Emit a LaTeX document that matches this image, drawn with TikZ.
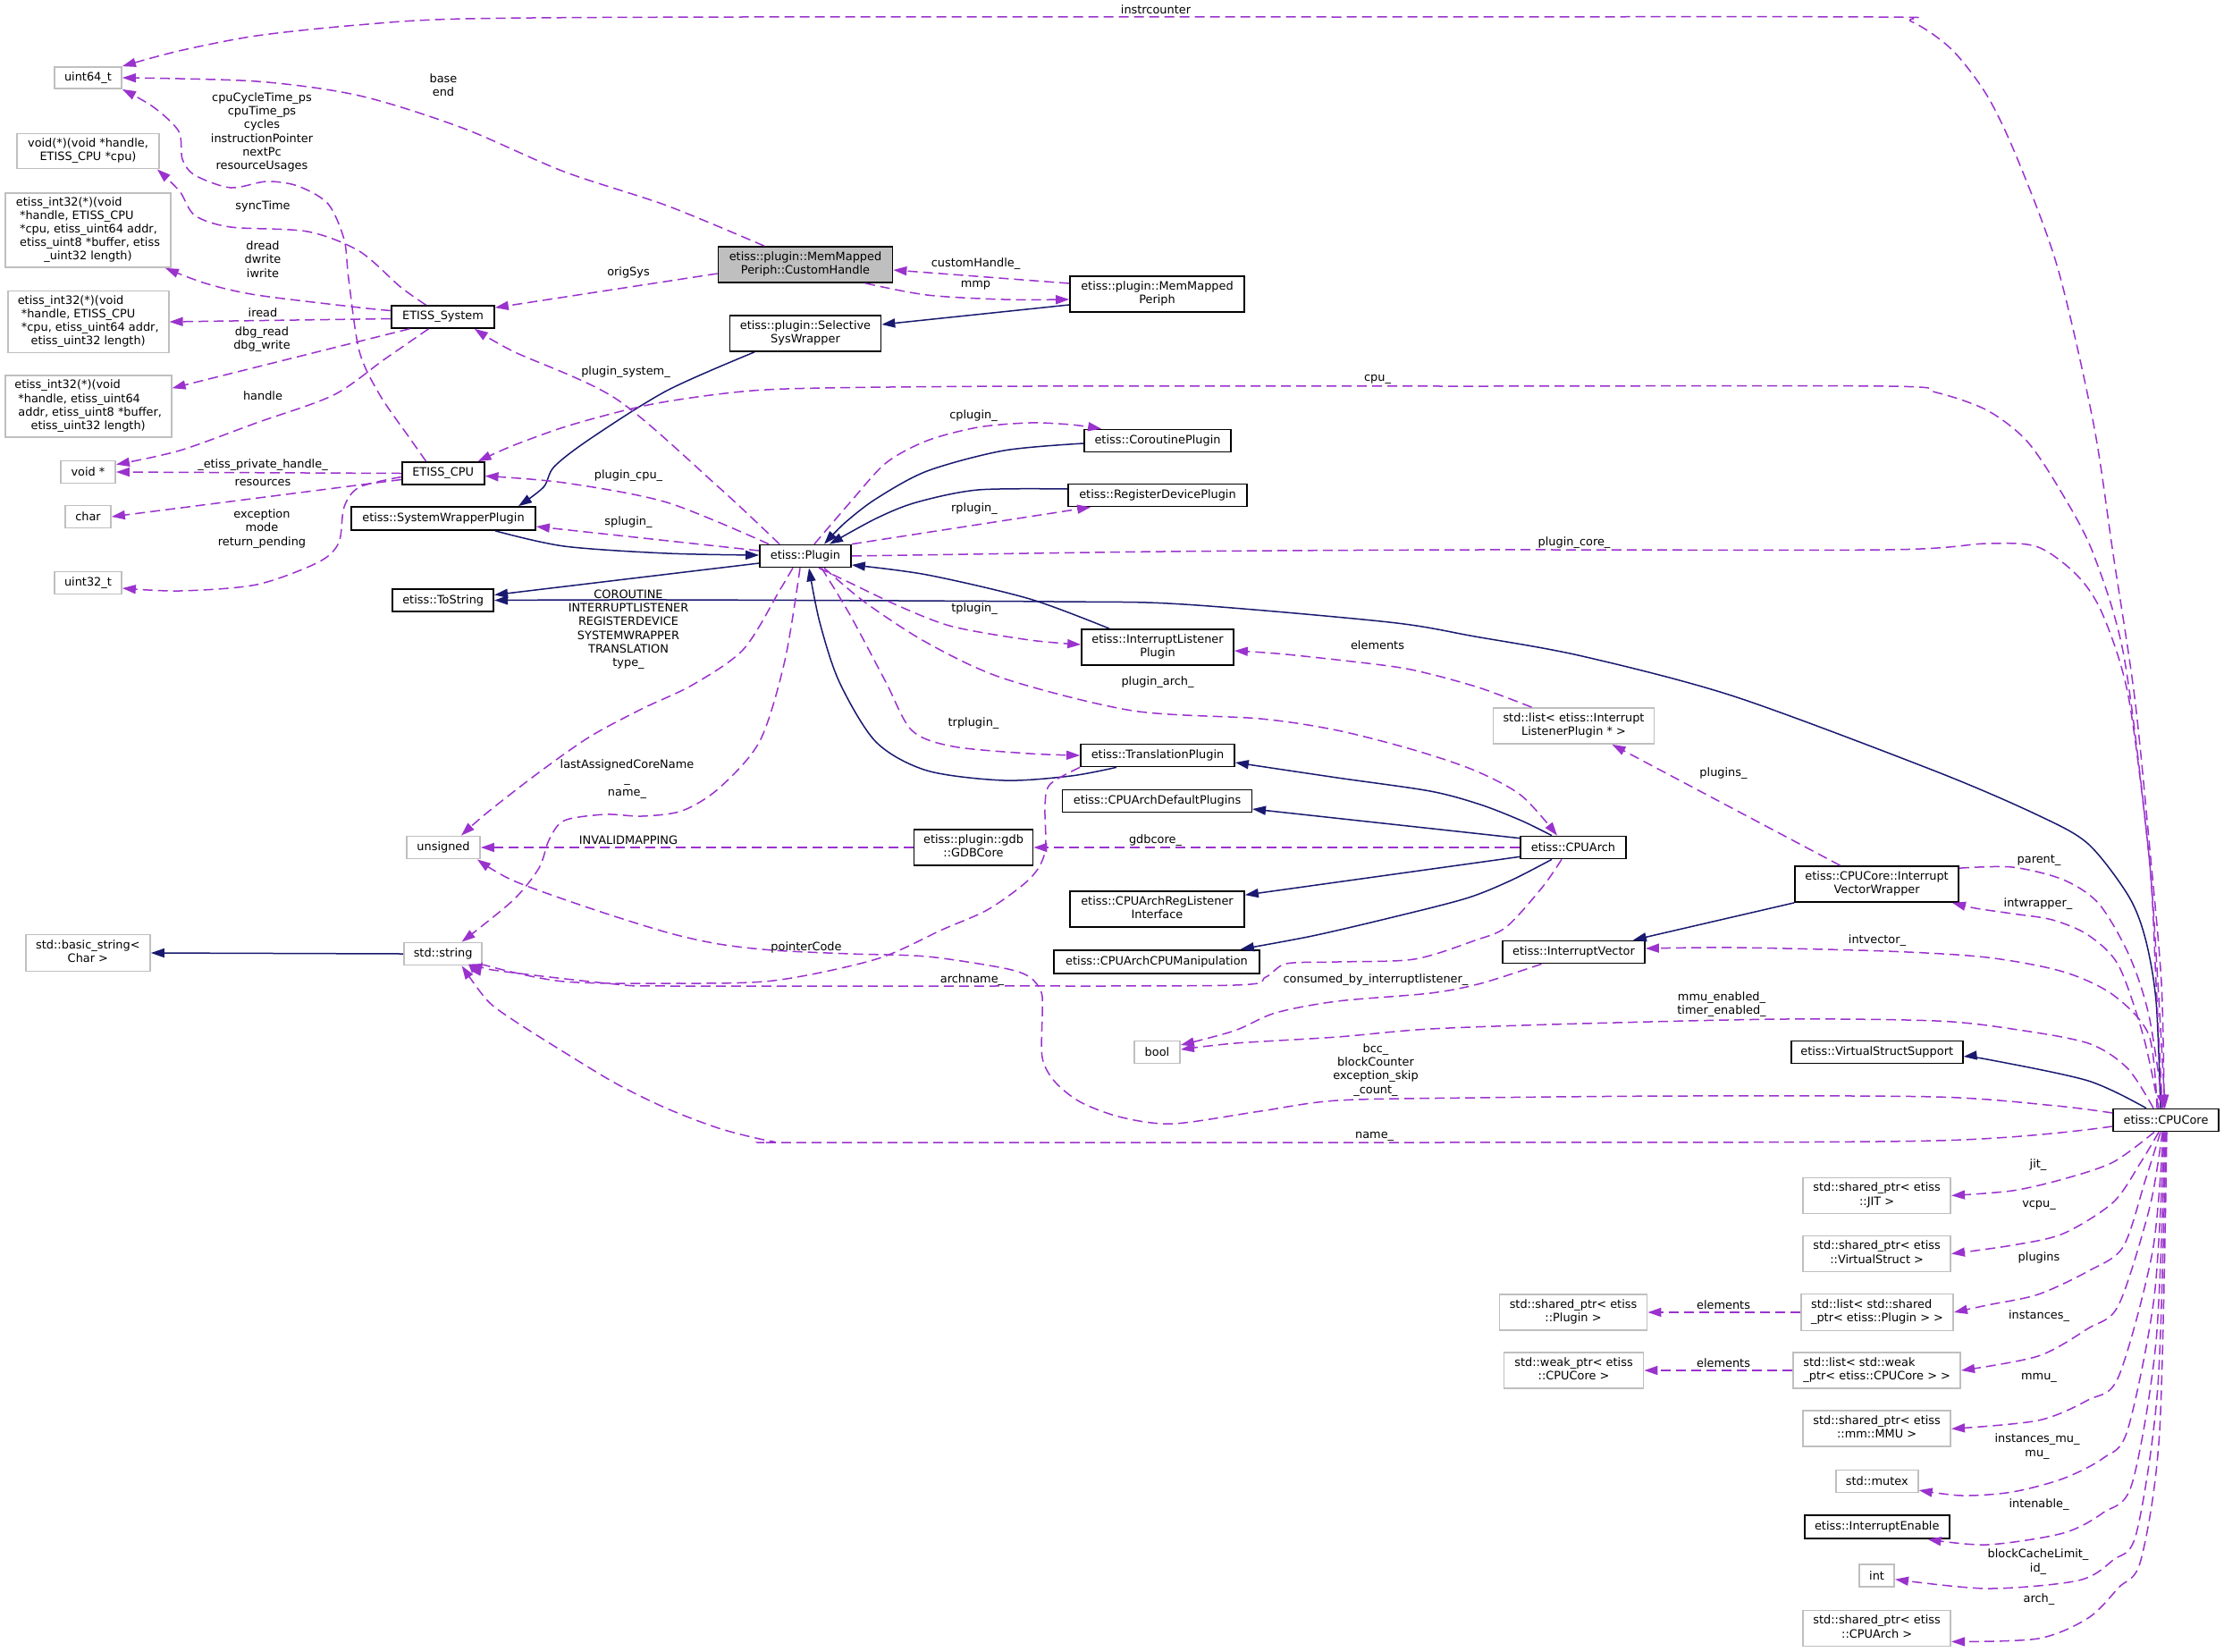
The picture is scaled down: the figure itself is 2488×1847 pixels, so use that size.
\documentclass[tikz,border=0pt]{standalone}
\usepackage{fontspec}
\setmainfont{DejaVu Sans}
\usetikzlibrary{arrows.meta,calc}
\definecolor{purp}{HTML}{9A32CD}
\definecolor{navyc}{HTML}{191970}
\definecolor{greyc}{HTML}{BFBFBF}
\newcommand\dfont{\fontsize{6.45pt}{7.6pt}\selectfont}
\newcommand\ml[2]{\begin{tabular}{@{}l@{}}#1\\\multicolumn{1}{@{}c@{}}{#2}\end{tabular}}
\begin{document}
\begin{tikzpicture}[x=0.5pt,y=-0.5pt,
  sz/.style 2 args={minimum width=#1*0.5pt, minimum height=#2*0.5pt},
  cls/.style={draw=black, line width=0.85pt, fill=white, inner sep=1pt, font=\dfont},
  thincls/.style={draw=black, line width=0.55pt, fill=white, inner sep=1pt, font=\dfont},
  ext/.style={draw=greyc, line width=0.9pt, fill=white, inner sep=1pt, font=\dfont},
  rootc/.style={draw=black, line width=0.85pt, fill=greyc, inner sep=1pt, font=\dfont},
  uses/.style={draw=purp, line width=0.75pt, dash pattern=on 5.5pt off 3pt, -{Triangle[length=7.5pt,width=5pt]}},
  inh/.style={draw=navyc, line width=0.75pt, -{Triangle[length=7.5pt,width=5pt]}},
  lbl/.style={font=\dfont, align=center, inner sep=0pt}]
\path[use as bounding box, fill=white] (0,0) rectangle (2488,1847);

% ---------------- nodes ----------------
\node[ext,sz={75}{24}] (u64) at (98.5,87) {uint64\_t};
\node[ext,sz={159}{39}] (vfn) at (98.5,169) {\ml{void(*)(void *handle,}{ETISS\_CPU *cpu)}};
\node[ext,sz={185}{83}] (i32a) at (98.5,257.5) {\ml{etiss\_int32(*)(void\\\ *handle, ETISS\_CPU\\\ *cpu, etiss\_uint64 addr,\\\ etiss\_uint8 *buffer, etiss}{\_uint32 length)}};
\node[ext,sz={180}{69}] (i32b) at (98.7,360) {\ml{etiss\_int32(*)(void\\\ *handle, ETISS\_CPU\\\ *cpu, etiss\_uint64 addr,}{etiss\_uint32 length)}};
\node[ext,sz={186}{69}] (i32c) at (98.7,454.6) {\ml{etiss\_int32(*)(void\\\ *handle, etiss\_uint64\\\ addr, etiss\_uint8 *buffer,}{etiss\_uint32 length)}};
\node[ext,sz={61}{25}] (voidp) at (98.5,528) {void *};
\node[ext,sz={51}{25}] (chr) at (98.5,578) {char};
\node[ext,sz={75}{25}] (u32) at (98.5,652) {uint32\_t};
\node[cls,sz={115}{25}] (sys) at (495.5,354.5) {ETISS\_System};
\node[cls,sz={92}{25}] (cpu) at (495.7,529.5) {ETISS\_CPU};
\node[cls,sz={206}{26}] (swp) at (496,580) {etiss::SystemWrapperPlugin};
\node[cls,sz={113}{25}] (tostr) at (495.7,671.5) {etiss::ToString};
\node[ext,sz={82}{25}] (uns) at (496,948) {unsigned};
\node[ext,sz={87}{25}] (str) at (495.6,1067) {std::string};
\node[ext,sz={139}{41}] (bstr) at (98.4,1066) {\ml{std::basic\_string<}{Char >}};
\node[rootc,sz={195}{40}] (ch) at (901,296) {\ml{etiss::plugin::MemMapped}{Periph::CustomHandle}};
\node[cls,sz={195}{40}] (mmp) at (1294.5,329) {\ml{etiss::plugin::MemMapped}{Periph}};
\node[cls,sz={169}{40}] (ssw) at (901,373) {\ml{etiss::plugin::Selective}{SysWrapper}};
\node[cls,sz={164}{25}] (corp) at (1295,493) {etiss::CoroutinePlugin};
\node[cls,sz={200}{25}] (rdp) at (1295,554) {etiss::RegisterDevicePlugin};
\node[cls,sz={102}{25}] (plg) at (901,622) {etiss::Plugin};
\node[cls,sz={170}{40}] (ilp) at (1295,724) {\ml{etiss::InterruptListener}{Plugin}};
\node[cls,sz={172}{25}] (trp) at (1295,845) {etiss::TranslationPlugin};
\node[thincls,sz={212}{25}] (cadp) at (1294.5,896) {etiss::CPUArchDefaultPlugins};
\node[cls,sz={133}{40}] (gdb) at (1089,948) {\ml{etiss::plugin::gdb}{::GDBCore}};
\node[cls,sz={195}{40}] (carl) at (1294.5,1017) {\ml{etiss::CPUArchRegListener}{Interface}};
\node[cls,sz={230}{26}] (cacm) at (1294,1075.7) {etiss::CPUArchCPUManipulation};
\node[ext,sz={51}{25}] (bool) at (1294.5,1177) {bool};
\node[ext,sz={180}{40}] (lilp) at (1760.5,812) {\ml{std::list< etiss::Interrupt}{ListenerPlugin * >}};
\node[cls,sz={118}{25}] (arch) at (1760,948) {etiss::CPUArch};
\node[cls,sz={183}{40}] (ivw) at (2099.6,989) {\ml{etiss::CPUCore::Interrupt}{VectorWrapper}};
\node[cls,sz={159}{25}] (iv) at (1760.5,1065) {etiss::InterruptVector};
\node[cls,sz={192}{25}] (vss) at (2099.7,1177) {etiss::VirtualStructSupport};
\node[cls,sz={118}{25}] (core) at (2423,1253) {etiss::CPUCore};
\node[ext,sz={165}{40}] (jit) at (2099.6,1337.4) {\ml{std::shared\_ptr< etiss}{::JIT >}};
\node[ext,sz={165}{40}] (vs) at (2099.6,1402.5) {\ml{std::shared\_ptr< etiss}{::VirtualStruct >}};
\node[ext,sz={170}{41}] (lsp) at (2100,1468) {\ml{std::list< std::shared}{\_ptr< etiss::Plugin > >}};
\node[ext,sz={165}{40}] (spp) at (1760,1468) {\ml{std::shared\_ptr< etiss}{::Plugin >}};
\node[ext,sz={187}{40}] (lwp) at (2099.7,1533) {\ml{std::list< std::weak}{\_ptr< etiss::CPUCore > >}};
\node[ext,sz={156}{40}] (wpc) at (1760.5,1533) {\ml{std::weak\_ptr< etiss}{::CPUCore >}};
\node[ext,sz={165}{40}] (mmu) at (2099.6,1598.3) {\ml{std::shared\_ptr< etiss}{::mm::MMU >}};
\node[ext,sz={92}{25}] (mtx) at (2099.8,1657) {std::mutex};
\node[cls,sz={162}{26}] (ie) at (2099.7,1708) {etiss::InterruptEnable};
\node[ext,sz={39}{25}] (int) at (2099.6,1762.7) {int};
\node[ext,sz={165}{40}] (sparch) at (2099.6,1821.4) {\ml{std::shared\_ptr< etiss}{::CPUArch >}};

% ---------------- edges ----------------
% instrcounter
\draw[uses] plot[smooth] coordinates {($(core.north)+(-2,0)$) (2418,1100) (2405,950) (2388,780) (2364,620) (2342,474) (2302,300) (2257,178) (2223,107) (2183,55) (2138,24) (2098,19) (1500,19) (830,19) (520,21) (400,28) (287,40) (200,57) (u64.north east)};
% base end
\draw[uses] plot[smooth] coordinates {($(ch.north)+(-46,0)$) (746,230) (631,192) (517,143) (402,107) (287,91) (u64.east)};
% cpu fields
\draw[uses] plot[smooth] coordinates {($(cpu.north)+(-19,0)$) (459,491) (425,442) (402,393) (390,312) (385,268) (367,228) (333,208) (298,203) (258,210) (218,196) (204,178) (200,147) (172,120) (u64.south east)};
% syncTime
\draw[uses] plot[smooth] coordinates {($(sys.north)+(-19,0)$) (448,321) (402,281) (344,259) (258,254) (218,241) (201,214) ($(vfn.south east)+(-3,0)$)};
% dread
\draw[uses] plot[smooth] coordinates {($(sys.west)+(0,-7)$) (402,344) (287,330) (230,317) ($(i32a.south east)+(-7,0)$)};
% iread
\draw[uses] ($(sys.west)+(0,2)$) -- (i32b.east);
% dbg
\draw[uses] ($(sys.south west)+(21,0)$) -- ($(i32c.north east)+(0,15)$);
% handle
\draw[uses] plot[smooth] coordinates {($(sys.south)+(-16,0)$) (430,402) (373,442) (287,473) (201,504) ($(voidp.north east)+(0,5)$)};
% private handle
\draw[uses] (cpu.west) -- (voidp.east);
% resources
\draw[uses] ($(cpu.west)+(0,7)$) -- (chr.east);
% exception
\draw[uses] plot[smooth] coordinates {($(cpu.west)+(0,4)$) (402,545) (385,567) (379,607) (356,629) (287,654) (201,661) ($(u32.east)+(0,6)$)};
% origSys
\draw[uses] ($(ch.west)+(0,10)$) -- ($(sys.north east)+(0,3)$);
% customHandle_
\draw[uses] ($(mmp.west)+(0,-12)$) -- ($(ch.east)+(0,6)$);
% mmp
\draw[uses] plot[smooth] coordinates {($(ch.south)+(67,0)$) (1037,330) (1123,335) ($(mmp.west)+(0,6)$)};
% MMP -> SSW
\draw[inh] ($(mmp.west)+(0,12)$) -- ($(ssw.east)+(0,-10)$);
% SSW -> SWP
\draw[inh] plot[smooth] coordinates {($(ssw.south)+(-57,0)$) (746,437) (660,491) (620,522) (608,545) ($(swp.north)+(84,0)$)};
% plugin_system_
\draw[uses] plot[smooth] coordinates {($(plg.north)+(-29,0)$) (804,545) (689,446) (574,393) ($(sys.south east)+(-23,0)$)};
% plugin_cpu_
\draw[uses] plot[smooth] coordinates {($(plg.north west)+(11,0)$) (746,562) (631,540) ($(cpu.east)+(0,3)$)};
% splugin_
\draw[uses] ($(plg.west)+(0,-6)$) -- ($(swp.east)+(0,9)$);
% SWP -> Plugin
\draw[inh] plot[smooth] coordinates {($(swp.south)+(58,0)$) (631,611) (746,619) ($(plg.west)+(0,-1)$)};
% Plugin -> ToString
\draw[inh] ($(plg.west)+(0,8)$) -- ($(tostr.east)+(0,-6)$);
% CPUCore -> ToString
\draw[inh] plot[smooth] coordinates {($(core.north)+(-6,0)$) (2412,1120) (2400,1050) (2381,1002) (2336,944) (2280,912) (2166,863) (1940,779) (1770,734) (1650,712) (1554,696) (1324,676) (1180,673) (750,671) (tostr.east)};
% cpu_
\draw[uses] plot[smooth] coordinates {($(core.north)+(-4,0)$) (2412,1100) (2404,957) (2376,734) (2342,620) (2308,554) (2268,494) (2223,459) (2166,439) (2110,432) (1650,432) (1152,432) (922,434) (830,438) (730,452) (640,475) (575,498) ($(cpu.north east)+(-8,0)$)};
% cplugin_
\draw[uses] plot[smooth] coordinates {($(plg.north)+(10,0)$) (951,562) (991,518) (1037,493) (1094,478) (1152,473) (1198,475) ($(corp.north west)+(20,0)$)};
% Coroutine -> Plugin
\draw[inh] plot[smooth] coordinates {($(corp.west)+(0,3)$) (1123,504) (1037,527) (980,558) (945,585) ($(plg.north)+(21,0)$)};
% RegisterDevice -> Plugin
\draw[inh] plot[smooth] coordinates {($(rdp.west)+(0,-7)$) (1094,548) (1025,562) (980,580) ($(plg.north)+(27,0)$)};
% rplugin_
\draw[uses] (plg.north east) -- ($(rdp.south west)+(26,0)$);
% plugin_core_
\draw[uses] plot[smooth] coordinates {(plg.east) (1300,617) (1650,615) (2110,615) (2223,608) (2280,612) (2325,645) (2353,689) (2381,779) (2404,957) (2414,1100) ($(core.north)+(-1,0)$)};
% InterruptListener -> Plugin
\draw[inh] plot[smooth] coordinates {($(ilp.north)+(-54,0)$) (1152,670) (1037,643) ($(plg.east)+(0,10)$)};
% tplugin_
\draw[uses] plot[smooth] coordinates {($(plg.south)+(15,0)$) (951,652) (1008,679) (1066,701) (1152,716) ($(ilp.west)+(0,-3)$)};
% plugin_arch_
\draw[uses] plot[smooth] coordinates {($(plg.south)+(21,0)$) (968,674) (1037,719) (1123,759) (1267,795) (1410,804) (1496,817) (1582,839) (1650,862) (1702,890) ($(arch.north)+(-18,0)$)};
% Translation -> Plugin
\draw[inh] plot[smooth] coordinates {($(trp.south)+(-46,0)$) (1198,868) (1123,873) (1037,862) (980,830) (939,763) (917,696) ($(plg.south)+(4,0)$)};
% trplugin_
\draw[uses] plot[smooth] coordinates {($(plg.south)+(18,0)$) (951,688) (991,763) (1020,817) (1066,835) (1152,843) (trp.west)};
% elements (listener list)
\draw[uses] plot[smooth] coordinates {($(lilp.north)+(-47,0)$) (1657,770) (1600,754) (1554,745) (1439,732) ($(ilp.east)+(0,4)$)};
% CPUArch -> Translation
\draw[inh] plot[smooth] coordinates {($(arch.north)+(-24,0)$) (1702,918) (1656,900) (1600,885) (1496,870) ($(trp.east)+(0,8)$)};
% CPUArch -> DefaultPlugins
\draw[inh] ($(arch.north west)+(0,3)$) -- ($(cadp.east)+(0,9)$);
% gdbcore_
\draw[uses] (arch.west) -- (gdb.east);
% INVALIDMAPPING
\draw[uses] (gdb.west) -- (uns.east);
% CPUArch -> RegListener
\draw[inh] ($(arch.south west)+(0,-3)$) -- ($(carl.north east)+(0,5)$);
% CPUArch -> CPUManipulation
\draw[inh] plot[smooth] coordinates {($(arch.south)+(-24,0)$) (1690,985) (1640,1005) (1554,1027) (1468,1047) ($(cacm.north east)+(-22,0)$)};
% archname_
\draw[uses] plot[smooth] coordinates {($(arch.south)+(-13,0)$) (1725,993) (1685,1037) (1650,1052) (1582,1073) (1496,1076) (1439,1078) (1416,1093) (1381,1102) (1100,1103) (750,1103) (689,1101) (551,1085) ($(str.east)+(0,11)$)};
% pointerCode
\draw[uses] plot[smooth] coordinates {(trp.south west) (1175,877) (1169,900) (1169,953) (1152,983) (1106,1017) (1054,1040) (980,1073) (865,1097) (750,1100) (631,1098) (551,1082) ($(str.east)+(0,9)$)};
% lastAssignedCoreName_ name_
\draw[uses] plot[smooth] coordinates {($(plg.south)+(-6,0)$) (878,739) (850,829) (804,882) (763,907) (718,913) (677,911) (631,918) (614,940) (603,971) (574,1007) ($(str.north)+(21,0)$)};
% type_ etc
\draw[uses] plot[smooth] coordinates {($(plg.south)+(-14,0)$) (873,659) (832,726) (775,766) (718,793) (660,824) (603,864) (545,909) ($(uns.north)+(20,0)$)};
% consumed_by_interruptlistener_
\draw[uses] plot[smooth] coordinates {($(iv.south)+(-36,0)$) (1657,1100) (1600,1111) (1496,1120) (1427,1133) (1381,1153) ($(bool.east)+(0,-8)$)};
% mmu_enabled_ timer_enabled_
\draw[uses] plot[smooth] coordinates {($(core.north)+(-14,0)$) (2380,1195) (2336,1167) (2251,1151) (2166,1142) (1996,1140) (1770,1145) (1600,1151) (1496,1160) (1382,1167) ($(bool.east)+(0,-3)$)};
% parent_
\draw[uses] plot[smooth] coordinates {($(ivw.north east)+(0,3)$) (2251,970) (2308,984) (2348,1011) (2382,1069) (2404,1136) ($(core.north)+(-3,0)$)};
% intwrapper_
\draw[uses] plot[smooth] coordinates {($(core.north)+(-8,0)$) (2398,1160) (2370,1080) (2336,1046) (2296,1029) (2251,1022) (2210,1016) ($(ivw.south east)+(-8,0)$)};
% IVW -> InterruptVector
\draw[inh] (ivw.south west) -- ($(iv.north east)+(-14,0)$);
% plugins_
\draw[uses] ($(ivw.north)+(-41,0)$) -- ($(lilp.south)+(43,0)$);
% intvector_
\draw[uses] plot[smooth] coordinates {($(core.north)+(-10,0)$) (2404,1158) (2364,1113) (2308,1087) (2223,1071) (2110,1064) (1940,1060) ($(iv.east)+(0,-4)$)};
% CPUCore -> VirtualStructSupport
\draw[inh] plot[smooth] coordinates {($(core.north)+(-22,0)$) (2336,1209) (2223,1185) ($(vss.east)+(0,5)$)};
% bcc_ ...
\draw[uses] plot[smooth] coordinates {($(core.west)+(0,-8)$) (2300,1237) (2166,1227) (1883,1226) (1650,1228) (1496,1231) (1410,1243) (1313,1257) (1255,1250) (1209,1233) (1180,1210) (1166,1183) (1166,1133) (1165,1110) (1152,1093) (1123,1083) (1037,1070) (951,1067) (865,1063) (804,1056) (746,1043) (660,1016) (574,985) ($(uns.south east)+(-4,0)$)};
% name_ (core)
\draw[uses] plot[smooth] coordinates {($(core.west)+(0,7)$) (2166,1276) (1600,1278) (900,1278) (865,1277) (807,1263) (746,1240) (689,1212) (631,1177) (574,1141) (545,1119) ($(str.south)+(21,0)$)};
% bottom fan
\draw[uses] plot[smooth] coordinates {($(core.south)+(-13,0)$) (2364,1300) (2308,1319) (2251,1332) (jit.east)};
\draw[uses] plot[smooth] coordinates {($(core.south)+(-8,0)$) (2395,1300) (2364,1345) (2308,1380) (2251,1393) (vs.east)};
\draw[uses] plot[smooth] coordinates {($(core.south)+(-6,0)$) (2400,1320) (2375,1395) (2336,1422) (2280,1448) (2223,1460) (lsp.east)};
\draw[uses] plot[smooth] coordinates {($(core.south)+(-4,0)$) (2405,1350) (2370,1460) (2336,1486) (2280,1517) (lwp.east)};
\draw[uses] plot[smooth] coordinates {($(core.south)+(-3,0)$) (2408,1400) (2370,1540) (2336,1566) (2280,1589) (mmu.east)};
\draw[uses] plot[smooth] coordinates {($(core.south)+(-2,0)$) (2410,1450) (2380,1600) (2353,1631) (2308,1654) (2251,1669) (2195,1673) ($(mtx.east)+(0,10)$)};
\draw[uses] plot[smooth] coordinates {($(core.south)+(-1,0)$) (2412,1500) (2385,1660) (2353,1692) (2308,1715) (2223,1728) ($(ie.south east)+(-25,0)$)};
\draw[uses] plot[smooth] coordinates {(core.south) (2414,1550) (2390,1715) (2364,1745) (2325,1768) (2223,1777) ($(int.east)+(0,4)$)};
\draw[uses] plot[smooth] coordinates {($(core.south)+(1,0)$) (2416,1600) (2395,1745) (2370,1776) (2336,1810) (2280,1833) ($(sparch.east)+(0,15)$)};
% elements
\draw[uses] (lsp.west) -- (spp.east);
\draw[uses] (lwp.west) -- (wpc.east);
% std::string -> basic_string
\draw[inh] (str.west) -- (bstr.east);

% ---------------- labels ----------------
\node[lbl] (L1) at (1293,11) {instrcounter};
\node[lbl] (L2) at (496,95) {base\\end};
\node[lbl] (L3) at (293,148) {cpuCycleTime\_ps\\cpuTime\_ps\\cycles\\instructionPointer\\nextPc\\resourceUsages};
\node[lbl] (L4) at (294,231) {syncTime};
\node[lbl] (L5) at (294,290) {dread\\dwrite\\iwrite};
\node[lbl] (L6) at (294,350) {iread};
\node[lbl] (L7) at (293,380) {dbg\_read\\dbg\_write};
\node[lbl] (L8) at (294,443) {handle};
\node[lbl] (L9) at (294,520) {\_etiss\_private\_handle\_};
\node[lbl] (L10) at (294,540) {resources};
\node[lbl] (L11) at (293,591.5) {exception\\mode\\return\_pending};
\node[lbl] (L12) at (703,304.5) {origSys};
\node[lbl] (L13) at (1091.5,295.5) {customHandle\_};
\node[lbl] (L14) at (1091.5,319.6) {mmp};
\node[lbl] (L15) at (700,416.5) {plugin\_system\_};
\node[lbl] (L16) at (1541,424) {cpu\_};
\node[lbl] (L17) at (1089,465) {cplugin\_};
\node[lbl] (L18) at (1090,569) {rplugin\_};
\node[lbl] (L19) at (703,532.6) {plugin\_cpu\_};
\node[lbl] (L20) at (703,584) {splugin\_};
\node[lbl] (L21) at (1761,607) {plugin\_core\_};
\node[lbl] (L22) at (703,704.2) {COROUTINE\\INTERRUPTLISTENER\\REGISTERDEVICE\\SYSTEMWRAPPER\\TRANSLATION\\type\_};
\node[lbl] (L23) at (1090,681) {tplugin\_};
\node[lbl] (L24) at (1541,722) {elements};
\node[lbl] (L25) at (1295,763.4) {plugin\_arch\_};
\node[lbl] (L26) at (1089,809) {trplugin\_};
\node[lbl] (L27) at (701.5,871.7) {lastAssignedCoreName\\\_\\name\_};
\node[lbl] (L28) at (1928,865) {plugins\_};
\node[lbl] (L29) at (703,940) {INVALIDMAPPING};
\node[lbl] (L30) at (1292.5,940) {gdbcore\_};
\node[lbl] (L31) at (2281,962.5) {parent\_};
\node[lbl] (L32) at (2280,1011.6) {intwrapper\_};
\node[lbl] (L33) at (2100,1052) {intvector\_};
\node[lbl] (L34) at (902,1060) {pointerCode};
\node[lbl] (L35) at (1087.5,1095.7) {archname\_};
\node[lbl] (L36) at (1539,1095.7) {consumed\_by\_interruptlistener\_};
\node[lbl] (L37) at (1926,1124) {mmu\_enabled\_\\timer\_enabled\_};
\node[lbl] (L38) at (1539,1197) {bcc\_\\blockCounter\\exception\_skip\\\_count\_};
\node[lbl] (L39) at (1537.6,1271) {name\_};
\node[lbl] (L40) at (2280,1303) {jit\_};
\node[lbl] (L41) at (2281,1348) {vcpu\_};
\node[lbl] (L42) at (2281,1406.6) {plugins};
\node[lbl] (L43) at (1928,1460) {elements};
\node[lbl] (L44) at (2281,1471.6) {instances\_};
\node[lbl] (L45) at (1928,1524.6) {elements};
\node[lbl] (L46) at (2281,1541) {mmu\_};
\node[lbl] (L47) at (2279,1618) {instances\_mu\_\\mu\_};
\node[lbl] (L48) at (2281,1683.4) {intenable\_};
\node[lbl] (L49) at (2280,1747) {blockCacheLimit\_\\id\_};
\node[lbl] (L50) at (2281,1789) {arch\_};
\end{tikzpicture}
\end{document}
